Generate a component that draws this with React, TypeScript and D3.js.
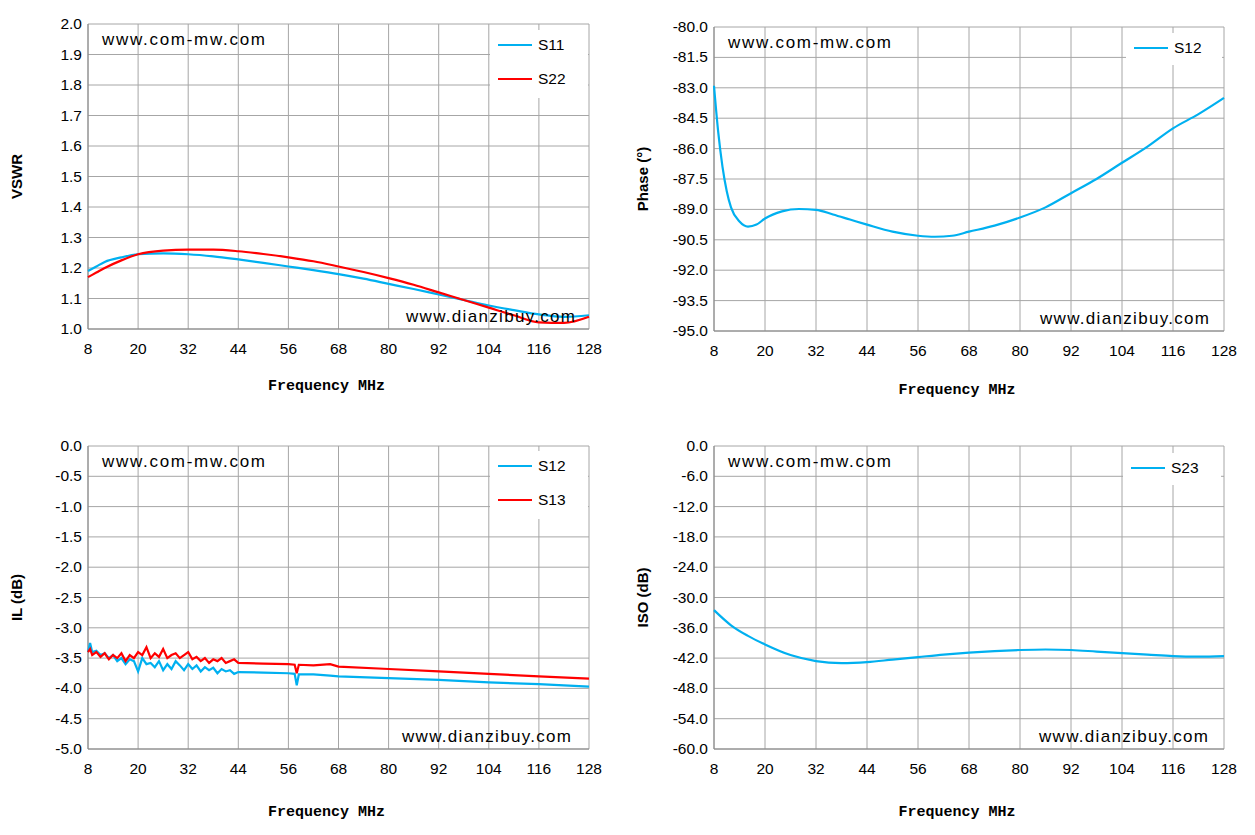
import React from "react";
import * as d3 from "d3";

const freqTicks = [8, 20, 32, 44, 56, 68, 80, 92, 104, 116, 128];

const vswrF = [8, 10, 12, 16, 20, 26, 32, 38, 44, 50, 56, 62, 68, 74, 80, 86, 92, 98, 104, 110, 116, 122, 128];
const s11 = [1.19, 1.205, 1.22, 1.235, 1.245, 1.248, 1.245, 1.238, 1.228, 1.217, 1.205, 1.193, 1.18, 1.165, 1.148, 1.131, 1.113, 1.095, 1.077, 1.062, 1.048, 1.04, 1.045];
const s22 = [1.17, 1.185, 1.2, 1.225, 1.245, 1.257, 1.26, 1.26, 1.255, 1.246, 1.235, 1.222, 1.205, 1.187, 1.167, 1.145, 1.12, 1.095, 1.07, 1.045, 1.022, 1.02, 1.04];

const phaseF = [8, 9, 10, 11, 12, 14, 16, 18, 20, 24, 28, 32, 36, 40, 44, 50, 56, 60, 64, 68, 74, 80, 86, 92, 98, 104, 110, 116, 122, 128];
const phase = [-82.9, -85.2, -86.9, -88.1, -88.9, -89.6, -89.85, -89.75, -89.45, -89.1, -88.98, -89.02, -89.25, -89.5, -89.75, -90.1, -90.3, -90.35, -90.3, -90.1, -89.8, -89.4, -88.9, -88.2, -87.5, -86.7, -85.9, -85.0, -84.3, -83.5];

const ilF = [8, 8.5, 9, 10, 11, 12, 13, 14, 15, 16, 17, 18, 19, 20, 21, 22, 23, 24, 25, 26, 27, 28, 29, 30, 31, 32, 33, 34, 35, 36, 37, 38, 39, 40, 41, 42, 43, 44, 50, 56, 57.5, 58, 58.5, 62, 66, 68, 80, 92, 104, 116, 128];
const il12 = [-3.4, -3.25, -3.4, -3.38, -3.45, -3.42, -3.5, -3.45, -3.55, -3.5, -3.6, -3.52, -3.55, -3.72, -3.5, -3.6, -3.58, -3.65, -3.55, -3.7, -3.6, -3.68, -3.55, -3.62, -3.7, -3.6, -3.68, -3.62, -3.72, -3.65, -3.7, -3.66, -3.75, -3.68, -3.72, -3.7, -3.76, -3.73, -3.74, -3.75, -3.76, -3.95, -3.77, -3.77, -3.79, -3.8, -3.83, -3.86, -3.9, -3.93, -3.97];
const il13 = [-3.4, -3.35, -3.45, -3.4, -3.48, -3.42, -3.52, -3.45, -3.5, -3.42, -3.55, -3.45, -3.5, -3.4, -3.45, -3.32, -3.5, -3.42, -3.48, -3.35, -3.5, -3.45, -3.42, -3.5, -3.45, -3.4, -3.52, -3.48, -3.55, -3.5, -3.58, -3.52, -3.55, -3.5, -3.58, -3.55, -3.52, -3.58, -3.59, -3.6, -3.61, -3.75, -3.61, -3.62, -3.6, -3.64, -3.68, -3.72, -3.76, -3.8, -3.84];

const isoF = [8, 12, 16, 20, 26, 32, 38, 44, 50, 56, 62, 68, 74, 80, 86, 92, 98, 104, 110, 116, 122, 128];
const iso = [-32.5, -35.5, -37.6, -39.3, -41.4, -42.6, -43.0, -42.8, -42.3, -41.8, -41.3, -40.9, -40.6, -40.4, -40.3, -40.4, -40.7, -41.0, -41.3, -41.6, -41.7, -41.6];

type Series = { name: string; xs: number[]; ys: number[]; color: string; smooth: boolean };
type PanelProps = {
  x0: number; x1: number; y0: number; y1: number;
  yMax: number; yMin: number; yStep: number; yLabel: string; xLabelY: number;
  series: Series[]; legend: { x: number; y: number; w: number; h: number };
  wm2x: number;
};

const FONT = "'Liberation Sans', Arial, sans-serif";

function Panel(p: PanelProps) {
  const x = d3.scaleLinear().domain([8, 128]).range([p.x0, p.x1]);
  const y = d3.scaleLinear().domain([p.yMin, p.yMax]).range([p.y1, p.y0]);
  const n = Math.round((p.yMax - p.yMin) / p.yStep);
  const yt = d3.range(n + 1).map((i) => p.yMin + i * p.yStep);
  return (
    <g>
      {freqTicks.map((t) => (
        <line key={"v" + t} x1={x(t)} x2={x(t)} y1={p.y0} y2={p.y1} stroke="#a6a6a6" strokeWidth={1} />
      ))}
      {yt.map((t) => (
        <line key={"h" + t} x1={p.x0} x2={p.x1} y1={y(t)} y2={y(t)} stroke="#a6a6a6" strokeWidth={1} />
      ))}
      <line x1={p.x0} x2={p.x0} y1={p.y0} y2={p.y1} stroke="#868686" />
      <line x1={p.x0} x2={p.x1} y1={p.y1} y2={p.y1} stroke="#868686" />
      {yt.map((t) => (
        <text key={"yl" + t} x={p.x0 - 6} y={y(t) + 5} textAnchor="end" fontSize={15.5} fontFamily={FONT}>{t.toFixed(1)}</text>
      ))}
      {freqTicks.map((t) => (
        <text key={"xl" + t} x={x(t)} y={p.y1 + 25} textAnchor="middle" fontSize={15.5} fontFamily={FONT}>{t}</text>
      ))}
      <text transform={`translate(${p.x0 - 66},${(p.y0 + p.y1) / 2}) rotate(-90)`} textAnchor="middle" fontSize={15} fontWeight="bold" fontFamily={FONT}>{p.yLabel}</text>
      <text x={(p.x0 + p.x1) / 2 - 12} y={p.xLabelY} textAnchor="middle" fontSize={15} fontWeight="bold" fontFamily="'Liberation Mono', 'DejaVu Sans Mono', monospace">Frequency MHz</text>
      {p.series.map((s) => {
        const line = d3.line<number>().x((_, i) => x(s.xs[i])).y((v) => y(v)).curve(s.smooth ? d3.curveMonotoneX : d3.curveLinear);
        return <path key={s.name} d={line(s.ys) || ""} fill="none" stroke={s.color} strokeWidth={2.2} />;
      })}
      <rect x={p.legend.x} y={p.legend.y} width={p.legend.w} height={p.legend.h} fill="white" />
      {p.series.map((s, i) => (
        <g key={"lg" + s.name}>
          <line x1={p.legend.x + 8} x2={p.legend.x + 42} y1={p.legend.y + 15 + i * 34} y2={p.legend.y + 15 + i * 34} stroke={s.color} strokeWidth={2.2} />
          <text x={p.legend.x + 48} y={p.legend.y + 20 + i * 34} fontSize={15.5} fontFamily={FONT}>{s.name}</text>
        </g>
      ))}
      <text x={p.x0 + 14} y={p.y0 + 21} fontSize={17} textLength={163} lengthAdjust="spacing" fontFamily={FONT}>www.com-mw.com</text>
      <text x={p.wm2x} y={p.y1 - 7} fontSize={17} textLength={169} lengthAdjust="spacing" fontFamily={FONT}>www.dianzibuy.com</text>
    </g>
  );
}

export default function App() {
  const blue = "#00b0f0";
  const red = "#ff0000";
  return (
    <svg width={1255} height={835} style={{ position: "absolute", left: 0, top: 0, background: "white" }}>
      <Panel x0={88} x1={589} y0={24} y1={329} yMax={2.0} yMin={1.0} yStep={0.1} yLabel="VSWR" xLabelY={390}
        series={[{ name: "S11", xs: vswrF, ys: s11, color: blue, smooth: true }, { name: "S22", xs: vswrF, ys: s22, color: red, smooth: true }]}
        legend={{ x: 490, y: 30, w: 98, h: 68 }} wm2x={406} />
      <Panel x0={714} x1={1224} y0={27} y1={331} yMax={-80} yMin={-95} yStep={1.5} yLabel="Phase (°)" xLabelY={394}
        series={[{ name: "S12", xs: phaseF, ys: phase, color: blue, smooth: true }]}
        legend={{ x: 1126, y: 33, w: 96, h: 32 }} wm2x={1040} />
      <Panel x0={88} x1={589} y0={446} y1={749} yMax={0} yMin={-5} yStep={0.5} yLabel="IL (dB)" xLabelY={816}
        series={[{ name: "S12", xs: ilF, ys: il12, color: blue, smooth: false }, { name: "S13", xs: ilF, ys: il13, color: red, smooth: false }]}
        legend={{ x: 490, y: 451, w: 98, h: 68 }} wm2x={402} />
      <Panel x0={714} x1={1224} y0={446} y1={749} yMax={0} yMin={-60} yStep={6} yLabel="ISO (dB)" xLabelY={816}
        series={[{ name: "S23", xs: isoF, ys: iso, color: blue, smooth: true }]}
        legend={{ x: 1123, y: 453, w: 98, h: 32 }} wm2x={1039} />
    </svg>
  );
}
